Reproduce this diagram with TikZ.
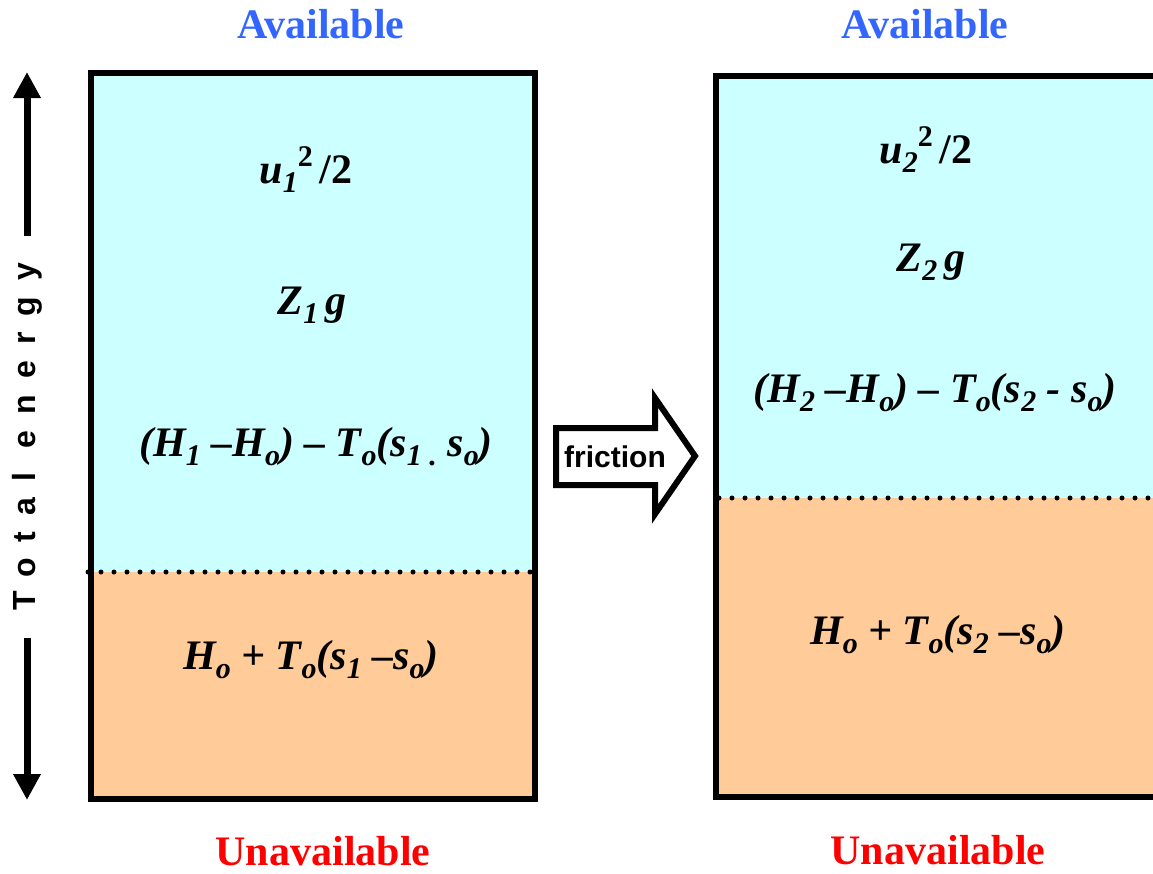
\documentclass[tikz,border=0pt]{standalone}
\usepackage{fontspec}
\setmainfont{Liberation Serif}
\setsansfont{Liberation Sans}
\usetikzlibrary{arrows.meta}
\definecolor{cyanfill}{HTML}{CCFFFF}
\definecolor{orangefill}{HTML}{FFCC99}
\definecolor{availblue}{HTML}{3366FF}
\definecolor{unavred}{HTML}{FF0000}
\newcommand\sbx[1]{\raisebox{-9pt}{\fontsize{30}{32}\selectfont #1}}
\newcommand\spx[1]{\raisebox{17pt}{\fontsize{30}{32}\selectfont\upshape #1}}
\begin{document}
\begin{tikzpicture}[x=1pt,y=-1pt,
  boxline/.style={draw=black,line width=5.5pt},
  dotline/.style={line width=5pt,line cap=round,dash pattern=on 0pt off 13pt},
  formula/.style={font=\fontsize{42}{46}\selectfont\bfseries\itshape,inner sep=0pt},
  header/.style={font=\fontsize{42}{46}\selectfont\bfseries,inner sep=0pt},
  energyarrow/.style={line width=7pt,-{Triangle[width=26pt,length=26pt]}}]
\useasboundingbox (0,0) rectangle (1153,873);
\begin{scope}
\clip (0,0) rectangle (1153,873);
% left box
\fill[cyanfill] (91,73) rectangle (535,572);
\fill[orangefill] (91,572) rectangle (535,799);
\coordinate (LD1) at (88,572);
\coordinate (LD2) at (533,572);
\draw[dotline] (LD1) -- (LD2);
\draw[boxline] (91,73) rectangle (535,799);
% right box
\fill[cyanfill] (716,76) rectangle (1175,498);
\fill[orangefill] (716,498) rectangle (1175,797);
\coordinate (RD1) at (719,498);
\coordinate (RD2) at (1153,498);
\draw[dotline] (RD1) -- (RD2);
\draw[boxline] (716,76) rectangle (1175,797);
\end{scope}
% headers
\node[header,text=availblue] (avL) at (321,24) {Available};
\node[header,text=availblue] (avR) at (925,24) {Available};
\node[header,text=unavred] (unL) at (323,851) {Unavailable};
\node[header,text=unavred] (unR) at (938,850) {Unavailable};
% left formulas
\node[formula] (kL) at (306,170) {u\sbx{1}\spx{2}\,\upshape/2};
\node[formula] (zL) at (312,305) {Z\sbx{1}\,g};
\node[formula] (hL) at (316,447) {(H\sbx{1} –H\sbx{o}) – T\sbx{o}(s\sbx{1 .} s\sbx{o})};
\node[formula] (uL) at (311,660) {H\sbx{o} + T\sbx{o}(s\sbx{1} –s\sbx{o})};
% right formulas
\node[formula] (kR) at (926,150) {u\sbx{2}\spx{2}\,\upshape/2};
\node[formula] (zR) at (931,262) {Z\sbx{2}\,g};
\node[formula] (hR) at (935,393) {(H\sbx{2} –H\sbx{o}) – T\sbx{o}(s\sbx{2} - s\sbx{o})};
\node[formula] (uR) at (938,635) {H\sbx{o} + T\sbx{o}(s\sbx{2} –s\sbx{o})};
% total energy
\node[rotate=90,inner sep=0pt,font=\fontsize{32}{34}\selectfont\sffamily\bfseries\addfontfeature{LetterSpace=50}] (te) at (27,437) {Total energy};
\coordinate (up1) at (27,236);
\coordinate (up2) at (27,72);
\coordinate (dn1) at (27,638);
\coordinate (dn2) at (27,800);
\draw[energyarrow] (up1) -- (up2);
\draw[energyarrow] (dn1) -- (dn2);
% friction arrow
\draw[line width=6pt,fill=white,line join=miter]
  (556,428) -- (655,428) -- (655,398) -- (695,456) -- (655,514) -- (655,485) -- (556,485) -- cycle;
\node[inner sep=0pt,font=\fontsize{30}{32}\selectfont\sffamily\bfseries] (fr) at (615,457) {friction};
\end{tikzpicture}
\end{document}
